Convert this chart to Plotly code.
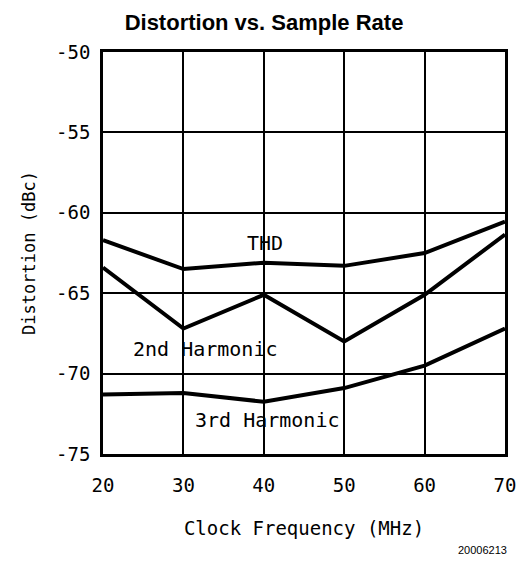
import plotly.graph_objects as go

freq = [20, 30, 40, 50, 60, 70]
thd = [-61.7, -63.5, -63.1, -63.3, -62.5, -60.55]
second_harm = [-63.4, -67.2, -65.1, -68.0, -65.1, -61.35]
third_harm = [-71.3, -71.2, -71.75, -70.9, -69.5, -67.2]

x_ticks = [20, 30, 40, 50, 60, 70]
y_ticks = [-50, -55, -60, -65, -70, -75]

mono = "DejaVu Sans Mono"

# page body has an 8px default margin; the figure is sized to fill the rest
W, H = 519, 563

fig = go.Figure()
for name, ys in [("THD", thd), ("2nd Harmonic", second_harm), ("3rd Harmonic", third_harm)]:
    fig.add_trace(go.Scatter(x=freq, y=ys, mode="lines", name=name,
                             line=dict(color="black", width=4), showlegend=False))

labels = [("THD", 40.2, -61.9), ("2nd Harmonic", 32.7, -68.5), ("3rd Harmonic", 40.45, -72.9)]
for txt, lx, ly in labels:
    fig.add_annotation(x=lx, y=ly, text=txt, showarrow=False, xref="x", yref="y",
                       font=dict(family=mono, size=20, color="black"))

fig.add_annotation(x=1.0, xref="paper", y=-(550 - 454) / (454 - 52), yref="paper",
                   text="20006213", showarrow=False, xanchor="right", yanchor="middle",
                   xshift=4,
                   font=dict(family="Liberation Sans", size=11, color="black"))

fig.update_layout(
    width=W, height=H,
    margin=dict(l=95, r=22, t=44, b=117, autoexpand=False),
    paper_bgcolor="white", plot_bgcolor="white",
    title=dict(text="<b>Distortion vs. Sample Rate</b>", x=256/W, xanchor="center",
               y=1 - 14/H, yanchor="middle",
               font=dict(family="Liberation Sans", size=22, color="black")),
    xaxis=dict(range=[20, 70], tickvals=x_ticks, ticktext=[str(v) for v in x_ticks],
               showgrid=True, gridcolor="black", gridwidth=1.5,
               showline=True, linecolor="black", linewidth=2.5, mirror=True,
               ticks="", zeroline=False, ticklabelstandoff=12,
               tickfont=dict(family=mono, size=19, color="black"),
               title=dict(text="Clock Frequency (MHz)", standoff=28,
                          font=dict(family=mono, size=19, color="black"))),
    yaxis=dict(range=[-75, -50], tickvals=y_ticks, ticktext=[str(v) for v in y_ticks],
               showgrid=True, gridcolor="black", gridwidth=1.5,
               showline=True, linecolor="black", linewidth=2.5, mirror=True,
               ticks="", zeroline=False, ticklabelstandoff=6,
               tickfont=dict(family=mono, size=19, color="black"),
               title=dict(text="Distortion (dBc)", standoff=17,
                          font=dict(family=mono, size=17, color="black"))),
)

fig.write_html("out.html")
